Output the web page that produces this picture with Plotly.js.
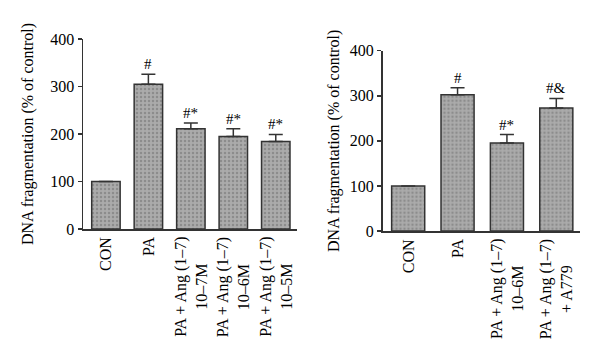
<!DOCTYPE html>
<html>
<head>
<meta charset="utf-8">
<script src="https://cdn.plot.ly/plotly-3.0.1.min.js"></script>
<style>html,body{margin:0;padding:0;background:#fff;}#chart{width:600px;height:359px;}</style>
</head>
<body>
<div id="chart"></div>
<script>
// Left panel data
const leftCategories = ['CON', 'PA', 'PA+Ang 10-7M', 'PA+Ang 10-6M', 'PA+Ang 10-5M'];
const leftLabels = ['CON', 'PA', 'PA + Ang (1–7)<br>10–7M', 'PA + Ang (1–7)<br>10–6M', 'PA + Ang (1–7)<br>10–5M'];
const leftValues = [100, 305, 211, 195, 184];
const leftErrors = [0, 21, 12, 16, 15];
const leftMarks = ['', '#', '#*', '#*', '#*'];

// Right panel data
const rightCategories = ['CON', 'PA', 'PA+Ang 10-6M', 'PA+Ang+A779'];
const rightLabels = ['CON', 'PA', 'PA + Ang (1–7)<br>10–6M', 'PA + Ang (1–7)<br>+ A779'];
const rightValues = [100, 302, 195, 273];
const rightErrors = [0, 16, 19, 21];
const rightMarks = ['', '#', '#*', '#&'];

const yTicks = [0, 100, 200, 300, 400];
const yTitle = 'DNA fragmentation (% of control)';

const serif = 'Liberation Serif, Times New Roman, serif';
const dark = '#333333';
const ink = '#000000';

function barTrace(cats, vals, errs, xa, ya, width) {
  return {
    type: 'bar', x: cats, y: vals, xaxis: xa, yaxis: ya, width: width,
    marker: {
      color: '#a8a8a8',
      line: {color: dark, width: 1.5},
      pattern: {shape: '.', fgcolor: '#8c8c8c', bgcolor: '#ababab', size: 4, solidity: 0.3}
    },
    error_y: {
      type: 'data', symmetric: false, array: errs, arrayminus: errs.map(() => 0),
      color: dark, thickness: 1.5, width: 7, visible: true
    },
    showlegend: false, hoverinfo: 'skip'
  };
}

const data = [
  barTrace(leftCategories, leftValues, leftErrors, 'x', 'y', 0.67),
  barTrace(rightCategories, rightValues, rightErrors, 'x2', 'y2', 0.67)
];

const annotations = [];
function addLabels(cats, labels, xref, ytop) {
  cats.forEach((c, i) => {
    annotations.push({
      xref: xref, yref: 'paper', x: c, y: ytop, text: labels[i],
      textangle: -90, xanchor: 'center', yanchor: 'top', showarrow: false,
      align: 'center', borderpad: 0,
      font: {family: serif, size: 16, color: ink}
    });
  });
}
function addMarks(cats, vals, errs, marks, xref, yref) {
  cats.forEach((c, i) => {
    if (!marks[i]) return;
    annotations.push({
      xref: xref, yref: yref, x: c, y: vals[i] + errs[i], text: marks[i],
      xanchor: 'center', yanchor: 'bottom', showarrow: false, yshift: 1, borderpad: 0,
      font: {family: serif, size: 15, color: ink}
    });
  });
}
addLabels(leftCategories, leftLabels, 'x', 1 - 236 / 359);
addLabels(rightCategories, rightLabels, 'x2', 1 - 238 / 359);
addMarks(leftCategories, leftValues, leftErrors, leftMarks, 'x', 'y');
addMarks(rightCategories, rightValues, rightErrors, rightMarks, 'x2', 'y2');

function xAxis(domain, range, anchor) {
  return {
    domain: domain, range: range, anchor: anchor, type: 'category',
    showticklabels: false, ticks: '', showgrid: false, zeroline: false,
    showline: true, linecolor: dark, linewidth: 1.5, fixedrange: true
  };
}
function yAxis(domain, anchor, standoff) {
  return {
    domain: domain, range: [0, 400], anchor: anchor,
    tickvals: yTicks, ticktext: yTicks.map(String),
    ticks: 'outside', ticklen: 4, tickwidth: 1.5, tickcolor: dark,
    tickfont: {family: serif, size: 16, color: ink},
    showgrid: false, zeroline: false, showline: true, linecolor: dark, linewidth: 1.5,
    title: {text: yTitle, font: {family: serif, size: 16, color: ink}, standoff: standoff},
    fixedrange: true
  };
}

const layout = {
  width: 600, height: 359,
  margin: {l: 0, r: 0, t: 0, b: 0},
  paper_bgcolor: '#fff', plot_bgcolor: '#fff',
  xaxis: xAxis([83 / 600, 297 / 600], [-0.54, 4.5], 'y'),
  yaxis: yAxis([1 - 229 / 359, 1 - 39 / 359], 'x', 12),
  xaxis2: xAxis([382.5 / 600, 580 / 600], [-0.52, 3.48], 'y2'),
  yaxis2: yAxis([1 - 231 / 359, 1 - 50.7 / 359], 'x2', 6),
  annotations: annotations,
  bargap: 0.3
};

Plotly.newPlot('chart', data, layout, {displayModeBar: false, staticPlot: true});
</script>
</body>
</html>
